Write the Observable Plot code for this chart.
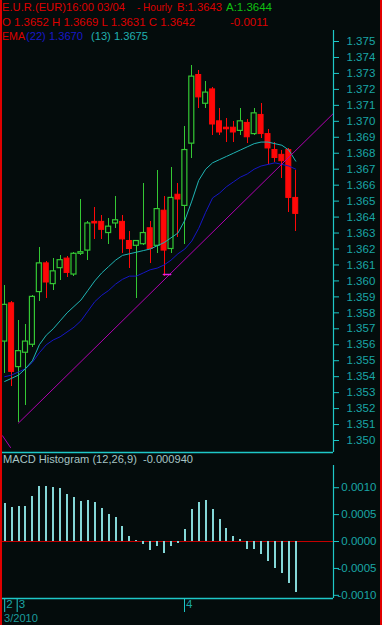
<!DOCTYPE html>
<html><head><meta charset="utf-8">
<script src="https://cdn.jsdelivr.net/npm/d3@7"></script>
<script src="https://cdn.jsdelivr.net/npm/@observablehq/plot@0.6"></script>
<style>
body{margin:0;background:#040c0c;}
#wrap{position:relative;width:382px;height:625px;overflow:hidden;background:#040c0c;font-family:"Liberation Sans",Arial,sans-serif;}
.t{position:absolute;white-space:pre;font-size:11.5px;line-height:14px;transform-origin:0 50%;}
#wrap svg{position:absolute;left:0;}
.border{position:absolute;top:0;height:625px;background:#e00000;}
</style></head><body>
<div id="wrap">
  <div class="t" data-w="123" style="left:2px;top:0px;color:#dd0000">E.U.R.(EUR)16:00 03/04</div>
  <div class="t" data-w="35" style="left:137px;top:0px;color:#dd0000">- Hourly</div>
  <div class="t" data-w="45" style="left:177px;top:0px;color:#dd0000">B:1.3643</div>
  <div class="t" data-w="46" style="left:226px;top:0px;color:#10c010">A:1.3644</div>
  <div class="t" data-w="193" style="left:2px;top:14.5px;color:#dd0000">O 1.3652 H 1.3669 L 1.3631 C 1.3642</div>
  <div class="t" style="left:230px;top:14.5px;color:#dd0000">-0.0011</div>
  <div class="t" data-w="23" style="left:2px;top:29px;color:#dd0000">EMA</div>
  <div class="t" data-w="57" style="left:26px;top:29px;color:#1818c8">(22) 1.3670</div>
  <div class="t" data-w="57" style="left:91px;top:29px;color:#20b0b0">(13) 1.3675</div>
  <div class="t" data-w="190" style="left:3px;top:452px;color:#a6c4c4">MACD Histogram (12,26,9)  -0.000940</div>
  <div class="t" data-w="34" style="left:4px;top:611px;color:#1a9c9c">3/2010</div>
</div>
<script>
// ---- data ----
const opens  = [1.3562,1.3586,1.3546,1.3555,1.3560,1.3593,1.3611,1.3598,1.3608,1.3614,1.3604,1.3617,1.3619,1.3637,1.3637,1.3630,1.3636,1.3637,1.3625,1.3622,1.3623,1.3633,1.3622,1.3644,1.3620,1.3654,1.3647,1.3686,1.3729,1.3711,1.3720,1.3700,1.3696,1.3696,1.3694,1.3699,1.3692,1.3704,1.3692,1.3682,1.3679,1.3682,1.3652];
const highs  = [1.3597,1.3587,1.3575,1.3573,1.3591,1.3621,1.3612,1.3614,1.3616,1.3615,1.3618,1.3651,1.3637,1.3646,1.3641,1.3639,1.3653,1.3641,1.3631,1.3625,1.3661,1.3637,1.3669,1.3653,1.3671,1.3661,1.3697,1.3735,1.3732,1.3725,1.3721,1.3708,1.3702,1.3700,1.3708,1.3701,1.3708,1.3711,1.3695,1.3687,1.3682,1.3683,1.3669];
const lows   = [1.3542,1.3534,1.3511,1.3522,1.3558,1.3587,1.3589,1.3594,1.3600,1.3602,1.3603,1.3616,1.3613,1.3626,1.3626,1.3623,1.3633,1.3617,1.3608,1.3589,1.3622,1.3611,1.3617,1.3603,1.3617,1.3627,1.3623,1.3677,1.3708,1.3708,1.3691,1.3691,1.3687,1.3687,1.3691,1.3686,1.3691,1.3689,1.3673,1.3674,1.3664,1.3643,1.3631];
const closes = [1.3585,1.3543,1.3556,1.3562,1.3590,1.3611,1.3599,1.3606,1.3613,1.3605,1.3617,1.3618,1.3636,1.3636,1.3632,1.3634,1.3638,1.3626,1.3620,1.3625,1.3630,1.3620,1.3645,1.3619,1.3652,1.3651,1.3682,1.3728,1.3715,1.3718,1.3698,1.3693,1.3695,1.3693,1.3700,1.3690,1.3705,1.3692,1.3683,1.3677,1.3675,1.3652,1.3642];
const ema13  = [1.3537,1.3539,1.3541,1.3545,1.3550,1.3560,1.3566,1.3570,1.3575,1.3580,1.3584,1.3588,1.3594,1.3600,1.3605,1.3609,1.3613,1.3616,1.3617,1.3618,1.3619,1.3620,1.3622,1.3624,1.3627,1.3630,1.3638,1.3650,1.3663,1.3670,1.3674,1.3676,1.3678,1.3680,1.3682,1.3684,1.3686,1.3687,1.3687,1.3686,1.3685,1.3682,1.3675];
const ema22  = [1.3540,1.3541,1.3543,1.3545,1.3549,1.3555,1.3560,1.3563,1.3565,1.3568,1.3571,1.3575,1.3581,1.3587,1.3591,1.3594,1.3598,1.3601,1.3603,1.3603,1.3605,1.3607,1.3608,1.3610,1.3613,1.3617,1.3620,1.3625,1.3633,1.3643,1.3652,1.3655,1.3659,1.3662,1.3665,1.3667,1.3670,1.3672,1.3673,1.3674,1.3673,1.3672,1.3670];
const macdHist = [0.00071,0.00064,0.00065,0.00066,0.00083,0.00103,0.00103,0.00101,0.00099,0.00088,0.00082,0.00075,0.00077,0.00072,0.00062,0.00051,0.00044,0.00028,0.00010,0.00002,-0.00006,-0.00017,-0.00010,-0.00023,-0.00010,-0.00003,0.00022,0.00060,0.00072,0.00077,0.00059,0.00041,0.00025,0.00010,0.00004,-0.00014,-0.00014,-0.00024,-0.00038,-0.00050,-0.00060,-0.00078,-0.00094];
const trendX = [2, 47.45];
const trendY = [1.3511, 1.3705];
const trend2X = [-0.32, 0.84];
const trend2Y = [1.3503, 1.34956];
const markX = [22.9, 23.95];
const markY = [1.3604, 1.3604];
const priceTicks = [1.375,1.374,1.373,1.372,1.371,1.370,1.369,1.368,1.367,1.366,1.365,1.364,1.363,1.362,1.361,1.360,1.359,1.358,1.357,1.356,1.355,1.354,1.353,1.352,1.351,1.350];
const macdTicks = [0.0010, 0.0005, 0, -0.0005, -0.0010];
const dateTickIdx = [0, 1.8, 25.95];
const dateTickLabels = ["2", "3", "4"];

// ---- layout ----
const xDomain = [-0.317, 47.45];
const priceDomain = [1.34925, 1.37569];
const macdDomain = [-0.001059, 0.001413];
const BG = "#040c0c", RED = "#ff0808", GREEN = "#34c834", CYAN = "#1fb4b4", BLUE = "#1616c4",
      MAG = "#b000b0", AXIS = "#1ec8c8", LABEL = "#1aa6a6", HIST = "#84d8d8";
const FONT = "Liberation Sans, Arial, sans-serif";

const idx = d3.range(opens.length);
const candles = idx.map(i => ({i, o: opens[i], h: highs[i], l: lows[i], c: closes[i]}));
const ups = candles.filter(d => d.c >= d.o);
const downs = candles.filter(d => d.c < d.o);
const W = 0.36;

const main = Plot.plot({
  width: 382, height: 453,
  marginLeft: 2, marginRight: 49, marginTop: 30, marginBottom: 1,
  x: {domain: xDomain, axis: null},
  y: {domain: priceDomain},
  style: {background: "transparent", color: LABEL, fontFamily: FONT, fontSize: "11.5px", overflow: "visible"},
  marks: [
    Plot.ruleX(ups, {x: "i", y1: "l", y2: "h", stroke: GREEN, shapeRendering: "crispEdges"}),
    Plot.ruleX(downs, {x: "i", y1: "l", y2: "h", stroke: RED, shapeRendering: "crispEdges"}),
    Plot.rect(ups, {x1: d => d.i - W, x2: d => d.i + W, y1: "o", y2: "c", fill: BG, stroke: GREEN, strokeWidth: 1.2}),
    Plot.rect(downs, {x1: d => d.i - W, x2: d => d.i + W, y1: "o", y2: "c", fill: RED, stroke: RED, strokeWidth: 1}),
    Plot.line(idx, {x: d => d, y: i => ema22[i], stroke: BLUE, strokeWidth: 1}),
    Plot.line(idx, {x: d => d, y: i => ema13[i], stroke: CYAN, strokeWidth: 1}),
    Plot.line(trendX.map((x, k) => [x, trendY[k]]), {x: d => d[0], y: d => d[1], stroke: MAG, strokeWidth: 1}),
    Plot.line(trend2X.map((x, k) => [x, trend2Y[k]]), {x: d => d[0], y: d => d[1], stroke: MAG, strokeWidth: 1}),
    Plot.line(markX.map((x, k) => [x, markY[k]]), {x: d => d[0], y: d => d[1], stroke: "#e020e0", strokeWidth: 1.5}),
    Plot.ruleX([xDomain[1]], {stroke: AXIS, strokeWidth: 1.2}),
    Plot.ruleY([priceDomain[0]], {stroke: AXIS, strokeWidth: 1.5}),
    Plot.axisY({anchor: "right", ticks: priceTicks, tickSize: 5, tickPadding: 8, tickFormat: d => d.toFixed(3), stroke: AXIS, fill: LABEL})
  ]
});
main.style.top = "0px";

const macd = Plot.plot({
  width: 382, height: 172,
  marginLeft: 2, marginRight: 49, marginTop: 12, marginBottom: 27,
  x: {domain: xDomain},
  y: {domain: macdDomain},
  style: {background: "transparent", color: LABEL, fontFamily: FONT, fontSize: "11.5px", overflow: "visible"},
  marks: [
    Plot.ruleY([0], {stroke: "#c80000", strokeWidth: 1}),
    Plot.ruleX(idx, {x: d => d, y1: 0, y2: i => macdHist[i], stroke: HIST, strokeWidth: 2, shapeRendering: "crispEdges"}),
    Plot.ruleX([xDomain[1]], {y1: macdDomain[0], y2: macdDomain[1], stroke: AXIS, strokeWidth: 1.2}),
    Plot.ruleY([macdDomain[0]], {stroke: AXIS, strokeWidth: 1.5}),
    Plot.axisY({anchor: "right", ticks: macdTicks, tickSize: 5, tickPadding: 38, textAnchor: "end", tickFormat: d => d.toFixed(4), stroke: AXIS, fill: LABEL}),
    Plot.axisX({anchor: "bottom", ticks: dateTickIdx, tickSize: 14, tickFormat: () => "", stroke: AXIS}),
    Plot.axisX({anchor: "bottom", ticks: dateTickIdx, tickSize: 0, tickPadding: 0, tickFormat: d => dateTickLabels[dateTickIdx.indexOf(d)], textAnchor: "start", dx: 1.5, dy: 1, fill: LABEL, stroke: "none"})
  ]
});
macd.style.top = "453px";

const wrap = document.getElementById("wrap");
wrap.insertBefore(macd, wrap.firstChild);
wrap.insertBefore(main, wrap.firstChild);
const lb = document.createElement("div"); lb.className = "border"; lb.style.left = "0px"; lb.style.width = "2px"; wrap.appendChild(lb);
const rb = document.createElement("div"); rb.className = "border"; rb.style.left = "380px"; rb.style.width = "2px"; wrap.appendChild(rb);

// fit header texts to the widths they occupy in the reference
document.querySelectorAll(".t[data-w]").forEach(el => {
  const w = el.getBoundingClientRect().width;
  if (w > 0) el.style.transform = `scaleX(${(+el.dataset.w / w).toFixed(3)})`;
});
</script>
</body></html>
